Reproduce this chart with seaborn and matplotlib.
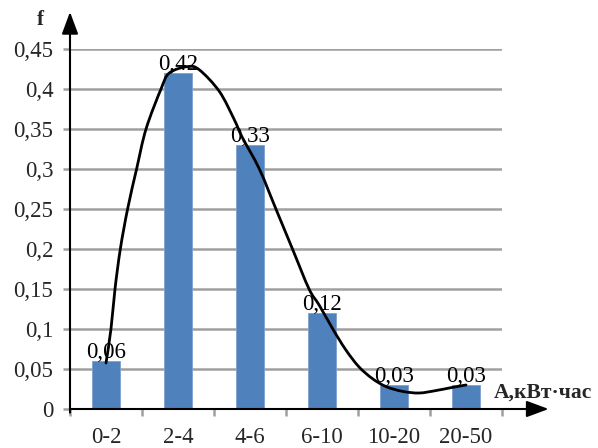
import matplotlib
matplotlib.use("Agg")
import matplotlib.pyplot as plt
from matplotlib.path import Path
from matplotlib.patches import PathPatch
import seaborn as sns
import pandas as pd

categories = ["0-2", "2-4", "4-6", "6-10", "10-20", "20-50"]
values = [0.06, 0.42, 0.33, 0.12, 0.03, 0.03]
value_labels = ["0,06", "0,42", "0,33", "0,12", "0,03", "0,03"]
yticks = [0, 0.05, 0.1, 0.15, 0.2, 0.25, 0.3, 0.35, 0.4, 0.45]
ytick_labels = ["0", "0,05", "0,1", "0,15", "0,2", "0,25", "0,3", "0,35", "0,4", "0,45"]

# smooth hand-drawn curve (category-position units)
curve_x = [0.0, 0.069, 0.125, 0.199, 0.30, 0.425, 0.556, 0.764, 0.879, 1.133, 1.296,
           1.574, 1.78, 1.89, 2.13, 2.36, 2.59, 2.82, 2.96, 3.15, 3.33, 3.51, 3.70,
           3.89, 4.12, 4.35, 4.58, 4.81, 5.0]
curve_y = [0.0575, 0.10, 0.15, 0.20, 0.25, 0.30, 0.35, 0.40, 0.42, 0.428, 0.424,
           0.397, 0.362, 0.34, 0.30, 0.25, 0.20, 0.15, 0.13, 0.10, 0.074, 0.053, 0.038,
           0.028, 0.022, 0.020, 0.023, 0.027, 0.030]

sns.set_theme(style="white")
plt.rcParams["font.family"] = ["Liberation Serif", "DejaVu Serif"]

FS = 16.5
fig = plt.figure(figsize=(5.98, 4.48), dpi=100)
W, H = 598, 448
ax = fig.add_axes([70 / W, (H - 409) / H, 432 / W, 360 / H])

df = pd.DataFrame({"cat": categories, "val": values})
sns.barplot(data=df, x="cat", y="val", color="#4f81bd", saturation=1, width=0.4,
            edgecolor="#7ba0d0", linewidth=0.6, ax=ax, zorder=3)

ax.set_xlim(-0.5, 5.5)
ax.set_ylim(0, 0.45)

for i, (v, lab) in enumerate(zip(values, value_labels)):
    ax.text(i, v - 0.002, lab, ha="center", va="bottom", fontsize=FS, color="black", zorder=4)


def smooth_path(xs, ys, t=1 / 6):
    """Catmull-Rom style cubic Bezier path through the given points (rendering only)."""
    pts = list(zip(xs, ys))
    n = len(pts)
    verts = [pts[0]]
    codes = [Path.MOVETO]
    for i in range(n - 1):
        p0 = pts[i - 1] if i > 0 else pts[i]
        p1 = pts[i]
        p2 = pts[i + 1]
        p3 = pts[i + 2] if i + 2 < n else pts[i + 1]
        c1 = (p1[0] + (p2[0] - p0[0]) * t, p1[1] + (p2[1] - p0[1]) * t)
        c2 = (p2[0] - (p3[0] - p1[0]) * t, p2[1] - (p3[1] - p1[1]) * t)
        verts += [c1, c2, p2]
        codes += [Path.CURVE4] * 3
    return Path(verts, codes)


ax.add_patch(PathPatch(smooth_path(curve_x, curve_y), facecolor="none", edgecolor="black",
                       lw=2.0, zorder=5, capstyle="round", joinstyle="round"))

for s in ax.spines.values():
    s.set_visible(False)

ax.set_yticks(yticks)
ax.set_yticklabels(ytick_labels, fontsize=FS)
ax.tick_params(axis="y", length=5, width=1.8, color="#a0a0a0", pad=7, left=True)
ax.yaxis.grid(True, color="#a0a0a0", lw=1.8, zorder=0)
ax.xaxis.grid(False)
ax.set_axisbelow(True)

ax.set_xticks(range(len(categories)))
ax.set_xticklabels(categories, fontsize=FS)
ax.set_xticks([i - 0.5 for i in range(len(categories) + 1)], minor=True)
ax.tick_params(axis="x", which="major", length=0, pad=13)
ax.tick_params(axis="x", which="minor", length=5, width=1.8, color="#a0a0a0", bottom=True)
ax.set_xlabel("")
ax.set_ylabel("")

# axes with arrows
arrow = dict(arrowstyle="-|>,head_length=1.35,head_width=0.5", color="black", lw=1.5,
             shrinkA=0, shrinkB=0, mutation_scale=10)
ax.annotate("", xy=(1.108, 0), xytext=(0, 0), xycoords="axes fraction",
            arrowprops=arrow, annotation_clip=False, zorder=6)
ax.annotate("", xy=(0, 1.103), xytext=(0, -0.01), xycoords="axes fraction",
            arrowprops=arrow, annotation_clip=False, zorder=6)

ax.text(-0.069, 1.08, "f", transform=ax.transAxes, fontsize=15, fontweight="bold",
        ha="center", va="center")
ax.text(0.982, 0.045, "A,кВт·час", transform=ax.transAxes, fontsize=15.5, fontweight="bold",
        ha="left", va="center")

fig.savefig("out.png", dpi=100)
